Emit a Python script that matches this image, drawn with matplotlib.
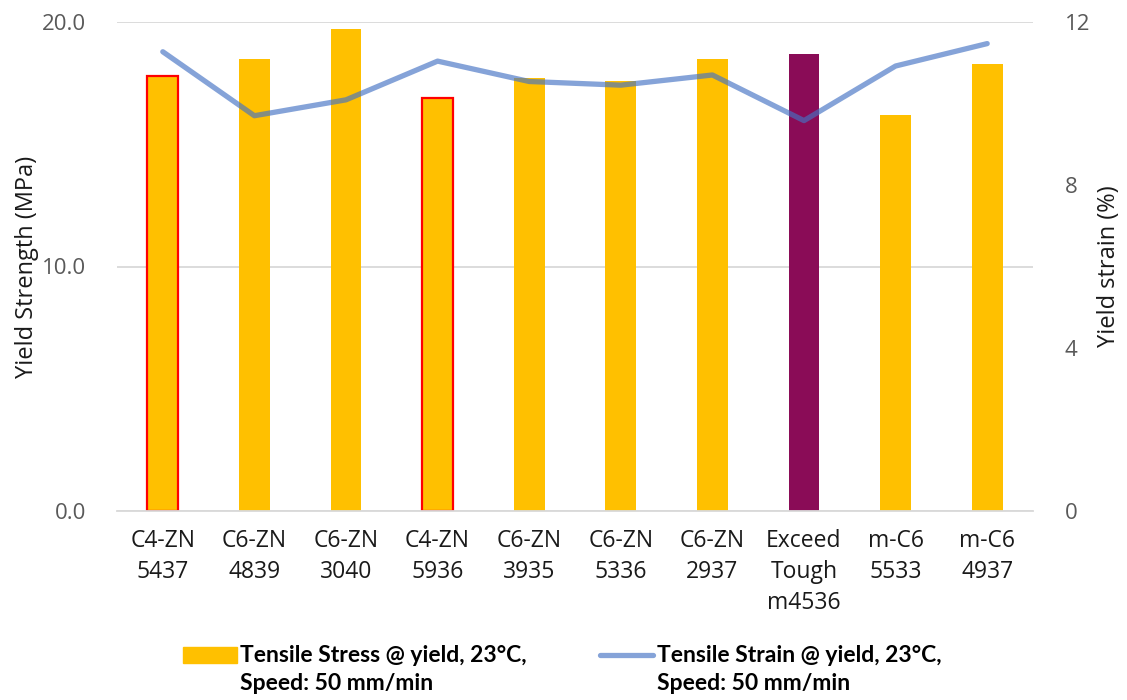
import matplotlib
matplotlib.use("Agg")
import matplotlib.pyplot as plt
from matplotlib.patches import Rectangle
from matplotlib.lines import Line2D

# data
grades = ["C4-ZN\n5437", "C6-ZN\n4839", "C6-ZN\n3040", "C4-ZN\n5936",
          "C6-ZN\n3935", "C6-ZN\n5336", "C6-ZN\n2937",
          "Exceed\nTough\nm4536", "m-C6\n5533", "m-C6\n4937"]
yield_stress = [17.8, 18.5, 19.7, 16.9, 17.7, 17.6, 18.5, 18.7, 16.2, 18.3]
yield_strain = [11.27, 9.70, 10.09, 11.04, 10.54, 10.45, 10.70, 9.58, 10.92, 11.47]
left_ticks = [0, 10, 20]
right_ticks = [0, 4, 8, 12]
legend_lines = [["Tensile Stress @ yield, 23°C,", "Speed: 50 mm/min"],
                ["Tensile Strain @ yield, 23°C,", "Speed: 50 mm/min"]]

plt.rcParams["font.family"] = ["Open Sans", "DejaVu Sans"]

yellow = "#FFC000"
purple = "#8A0C57"
line_col = "#4472C4"
W, H = 1127, 700

fig = plt.figure(figsize=(11.27, 7), dpi=100)
ax = fig.add_axes([117 / W, 1 - 511 / H, 916 / W, 489 / H])

x = list(range(len(grades)))
colors = [yellow] * len(grades)
colors[7] = purple

bars = ax.bar(x, yield_stress, width=0.335, color=colors, zorder=2)
# the two C4 grades are outlined in red
for i in (0, 3):
    bars[i].set_edgecolor("red")
    bars[i].set_linewidth(1.6)

ax.set_xlim(-0.5, len(grades) - 0.5)
ax.set_ylim(0, 20)
ax.set_yticks(left_ticks)
ax.set_yticklabels([f"{t:.1f}" for t in left_ticks])
ax.set_xticks(x)
ax.set_xticklabels(grades, fontsize=16.5, color="#1a1a1a", linespacing=1.38)
ax.tick_params(axis="y", labelsize=16, labelcolor="#595959", length=0, pad=22)
ax.tick_params(axis="x", length=0, pad=13)
ax.grid(axis="y", color="#d9d9d9", linewidth=1.3, zorder=0)
for s in ["top", "right", "left"]:
    ax.spines[s].set_visible(False)
ax.spines["bottom"].set_color("#d9d9d9")
ax.spines["bottom"].set_linewidth(1.3)
ax.set_ylabel("Yield Strength (MPa)", fontsize=17, color="#1a1a1a")
ax.yaxis.label.set_va("center")
ax.yaxis.set_label_coords((27 - 117) / 916, 0.5)

ax2 = ax.twinx()
ax2.plot(x, yield_strain, color=line_col, alpha=0.65, linewidth=3.8,
         solid_capstyle="round", zorder=3)
ax2.set_ylim(0, 12)
ax2.set_yticks(right_ticks)
ax2.tick_params(axis="y", labelsize=16, labelcolor="#595959", length=0, pad=23)
for s in ["top", "right", "left", "bottom"]:
    ax2.spines[s].set_visible(False)
ax2.set_ylabel("Yield strain (%)", fontsize=17, color="#1a1a1a")
ax2.yaxis.label.set_va("center")
ax2.yaxis.set_label_coords((1109 - 117) / 916, 0.5)

# legend built by hand so the key sits on the first text line, like Excel
leg_font = dict(fontsize=16.5, fontweight="bold", color="black",
                family=["Lato", "DejaVu Sans"], va="center", ha="left")
fig.patches.append(Rectangle((183 / W, 1 - 663 / H), 54 / W, 16 / H,
                             transform=fig.transFigure, color=yellow))
fig.lines.append(Line2D([600 / W, 653 / W], [1 - 655 / H, 1 - 655 / H],
                        transform=fig.transFigure, color=line_col,
                        alpha=0.65, linewidth=3.8, solid_capstyle="round"))
for x0, lines in zip([240, 657], legend_lines):
    fig.text(x0 / W, 1 - 655 / H, lines[0], **leg_font)
    fig.text(x0 / W, 1 - 684 / H, lines[1], **leg_font)

fig.savefig("out.png", dpi=100)
